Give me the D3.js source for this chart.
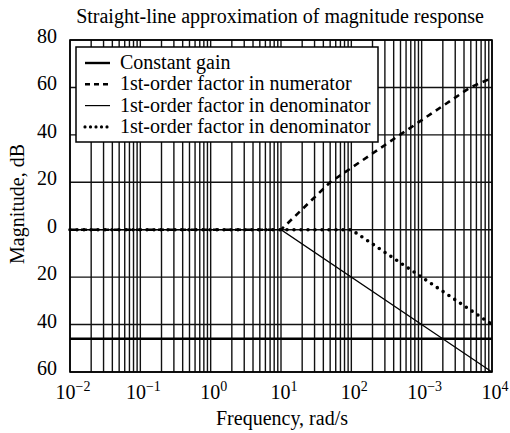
<!DOCTYPE html>
<html><head><meta charset="utf-8">
<script src="https://cdn.jsdelivr.net/npm/d3@7"></script>
<style>
html,body{margin:0;padding:0;background:#fff;}
svg{display:block;font-family:"Liberation Serif","DejaVu Serif",serif;}
</style></head>
<body><svg id="c" width="510" height="433"></svg>
<script>
// ---- data ----
const title = "Straight-line approximation of magnitude response";
const xLabel = "Frequency, rad/s";
const yLabel = "Magnitude, dB";
const xTickValues = [1e-2, 1e-1, 1e0, 1e1, 1e2, 1e3, 1e4];
const xTickExponents = ["\u22122", "\u22121", "0", "1", "2", "\u22123", "4"];
const yTickValues = [80, 60, 40, 20, 0, -20, -40, -60];
const yTickLabels = ["80", "60", "40", "20", "0", "20", "40", "60"];
const legendLabels = ["Constant gain", "1st-order factor in numerator", "1st-order factor in denominator", "1st-order factor in denominator"];
const constGainFreq = [0.01, 10000];
const constGainDb = [-46, -46];
const numFreq = [0.01, 10, 50, 490, 4900, 10000];
const numDb = [0, 0, 20, 40, 60, 64];
const den1Freq = [0.01, 10, 10000];
const den1Db = [0, 0, -60];
const den2Freq = [0.01, 100, 10000];
const den2Db = [0, 0, -40];

// ---- layout ----
const svg = d3.select("#c");
const L = 70, R = 492, T = 40, B = 372;
const x = d3.scaleLog().domain([1e-2, 1e4]).range([L, R]);
const y = d3.scaleLinear().domain([-60, 80]).range([B, T]);

// minor/major grid
const gridX = [];
for (let e = -2; e < 4; e++) for (let m = 1; m <= 9; m++) gridX.push(m * Math.pow(10, e));
gridX.push(1e4);
const g = svg.append("g");
g.selectAll("line.vx").data(gridX).join("line")
  .attr("x1", d => x(d)).attr("x2", d => x(d)).attr("y1", T).attr("y2", B)
  .attr("stroke", "#111").attr("stroke-width", 1.4);
g.selectAll("line.hy").data(yTickValues).join("line")
  .attr("x1", L).attr("x2", R).attr("y1", d => y(d)).attr("y2", d => y(d))
  .attr("stroke", "#111").attr("stroke-width", 1.4);

// series
const line = d3.line().x(d => x(d[0])).y(d => y(d[1]));
const zip = (a, b) => a.map((v, i) => [v, b[i]]);
svg.append("path").attr("d", line(zip(constGainFreq, constGainDb)))
  .attr("fill", "none").attr("stroke", "#000").attr("stroke-width", 2.4);
svg.append("path").attr("d", line(zip(den1Freq, den1Db)))
  .attr("fill", "none").attr("stroke", "#000").attr("stroke-width", 1.2);
svg.append("path").attr("d", line(zip(numFreq, numDb)))
  .attr("fill", "none").attr("stroke", "#000").attr("stroke-width", 2.6).attr("stroke-dasharray", "6,5");
svg.append("path").attr("d", line(zip(den2Freq, den2Db)))
  .attr("fill", "none").attr("stroke", "#000").attr("stroke-width", 3.6)
  .attr("stroke-linecap", "round").attr("stroke-dasharray", "0,7");

// frame
svg.append("rect").attr("x", L).attr("y", T).attr("width", R - L).attr("height", B - T)
  .attr("fill", "none").attr("stroke", "#000").attr("stroke-width", 1.6);

// axes labels
const xa = svg.append("g");
xTickValues.forEach((v, i) => {
  const t = xa.append("text").attr("x", x(v) + 3).attr("y", 399).attr("text-anchor", "middle")
    .attr("font-size", 20).attr("fill", "#000");
  t.append("tspan").text("10");
  t.append("tspan").attr("dy", -8).attr("font-size", 14).text(xTickExponents[i]);
});
svg.selectAll("text.yt").data(yTickValues).join("text")
  .attr("x", 57).attr("y", d => y(d) + 3).attr("text-anchor", "end")
  .attr("font-size", 20).attr("fill", "#000").text((d, i) => yTickLabels[i]);

svg.append("text").attr("x", 280).attr("y", 23).attr("text-anchor", "middle")
  .attr("font-size", 20).attr("fill", "#000").text(title);
svg.append("text").attr("x", 282).attr("y", 425).attr("text-anchor", "middle")
  .attr("font-size", 20).attr("fill", "#000").text(xLabel);
svg.append("text").attr("transform", "translate(24,204) rotate(-90)").attr("text-anchor", "middle")
  .attr("font-size", 20).attr("fill", "#000").text(yLabel);

// legend
const lg = svg.append("g");
lg.append("rect").attr("x", 76).attr("y", 47).attr("width", 302).attr("height", 95)
  .attr("fill", "#fff").attr("stroke", "#000").attr("stroke-width", 1.5);
const styles = [
  {w: 2.4, dash: null, cap: "butt"},
  {w: 2.6, dash: "5,4", cap: "butt"},
  {w: 1.2, dash: null, cap: "butt"},
  {w: 3.2, dash: "0,5.5", cap: "round"}
];
legendLabels.forEach((lab, i) => {
  const yy = 63 + i * 21.3;
  const ln = lg.append("line").attr("x1", 85).attr("x2", 110).attr("y1", yy).attr("y2", yy)
    .attr("stroke", "#000").attr("stroke-width", styles[i].w).attr("stroke-linecap", styles[i].cap);
  if (styles[i].dash) ln.attr("stroke-dasharray", styles[i].dash);
  lg.append("text").attr("x", 120).attr("y", yy + 6).attr("font-size", 20).attr("fill", "#000").text(lab);
});
</script></body></html>
